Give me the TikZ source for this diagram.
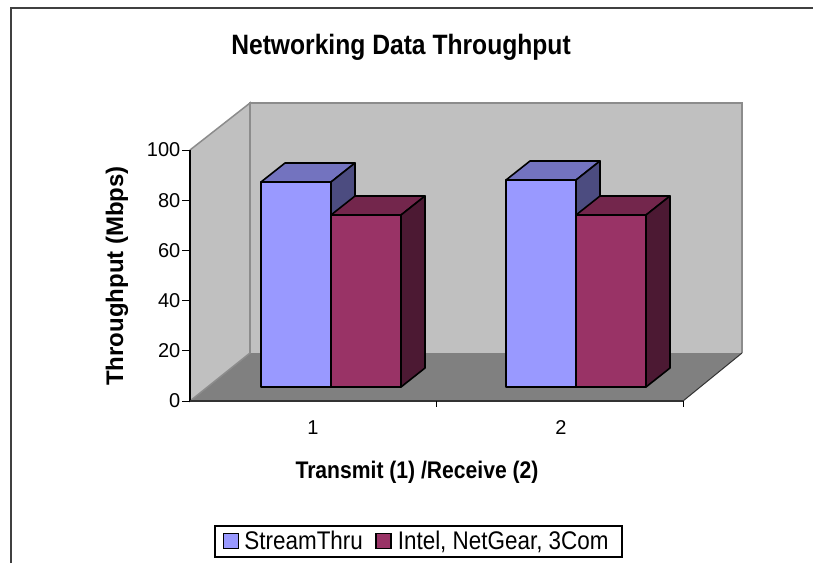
\documentclass[tikz,border=0pt]{standalone}
\usepackage{fontspec}
\setmainfont{Liberation Sans}
\usepackage{graphicx}
\usepackage{tikz}
\usetikzlibrary{positioning}

\definecolor{wallgray}{HTML}{C0C0C0}
\definecolor{floorgray}{HTML}{808080}
\definecolor{edgegray}{HTML}{8C8C8C}
\definecolor{streamblue}{HTML}{9999FF}
\definecolor{intelred}{HTML}{993366}
\definecolor{framegray}{HTML}{404040}

% text a bit narrower than the plain font
\newcommand{\narrowtxt}[1]{\scalebox{0.88}[1]{#1}}

% one 3d column: left x, right x, top y, colour
\newcommand{\drawbar}[4]{%
	\filldraw [barline,fill=#4] (#1,387) rectangle (#2,#3);
	\filldraw [barline,fill=#4!75!black] (#1,#3) -- ({#1+24},{#3-19}) -- ({#2+24},{#3-19}) -- (#2,#3) -- cycle;
	\filldraw [barline,fill=#4!50!black] (#2,#3) -- ({#2+24},{#3-19}) -- ({#2+24},368) -- (#2,387) -- cycle;
}

\begin{document}
\begin{tikzpicture}[x=1pt,y=-1pt,
	barline/.style={draw=black,line width=1.6pt,line join=round},
	wall/.style={fill=wallgray,draw=edgegray,line width=1.5pt},
	ticklabel/.style={left,inner sep=1pt,font=\fontsize{20}{20}\selectfont},
	axistitle/.style={font=\bfseries\fontsize{24}{24}\selectfont},
	legsq/.style={draw=black,line width=1.5pt,minimum size=15pt,inner sep=0pt},
	legtext/.style={inner sep=0pt,text height=18pt,text depth=2pt,font=\fontsize{25.5}{25.5}\selectfont}]

	\useasboundingbox (0,0) rectangle (813,563);
	\fill [white] (0,0) rectangle (813,563);

	% chart frame
	\draw [framegray,line width=2pt] (10.5,563) -- (10.5,7.5) -- (813,7.5);

	\node (title) [anchor=base,font=\bfseries\fontsize{28}{28}\selectfont] at (401,54) {\narrowtxt{Networking Data Throughput}};

	% walls and floor
	\fill [floorgray] (190,401) -- (250,353) -- (742,353) -- (683,401) -- cycle;
	\draw [wall] (190,401) -- (190,150) -- (250,103) -- (250,353) -- cycle;
	\draw [wall] (250,353) -- (250,103) -- (742,103) -- (742,353);
	\draw [black!80,line width=1pt] (742,353) -- (683,401);

	% value axis
	\draw [black,line width=1.2pt] (190,150) -- (190,401);
	\foreach \v in {0,20,...,100} {
		\draw [black,line width=1pt] (182,{401-2.51*\v}) -- (190,{401-2.51*\v});
		\node (t\v) [ticklabel] at (181.5,{401-2.51*\v}) {\v};
	}

	% category axis
	\draw [black!80,line width=1.8pt] (190,401) -- (683,401);
	\foreach \x in {436,683}
		\draw [black,line width=1pt] (\x,401) -- (\x,407);
	\node (c1) [font=\fontsize{20}{20}\selectfont] at (313,428) {1};
	\node (c2) [font=\fontsize{20}{20}\selectfont] at (561,428) {2};

	% columns
	\drawbar{261}{331}{182}{streamblue}
	\drawbar{331}{401}{215}{intelred}
	\drawbar{506}{576}{180}{streamblue}
	\drawbar{576}{646}{215}{intelred}

	\node (ylabel) [axistitle,rotate=90] at (117,276) {Throughput (Mbps)};
	\node (xlabel) [axistitle,anchor=base] at (417,478) {\narrowtxt{Transmit (1) /Receive (2)}};

	% legend
	\draw [black,line width=1.2pt] (215,526) rectangle (622,557);
	\node (sqA) [legsq,fill=streamblue] at (231,541) {};
	\node (legA) [legtext,right=5pt of sqA] {\narrowtxt{StreamThru}};
	\node (sqB) [legsq,fill=intelred,right=12pt of legA] {};
	\node (legB) [legtext,right=6pt of sqB] {\narrowtxt{Intel, NetGear, 3Com}};

\end{tikzpicture}
\end{document}
